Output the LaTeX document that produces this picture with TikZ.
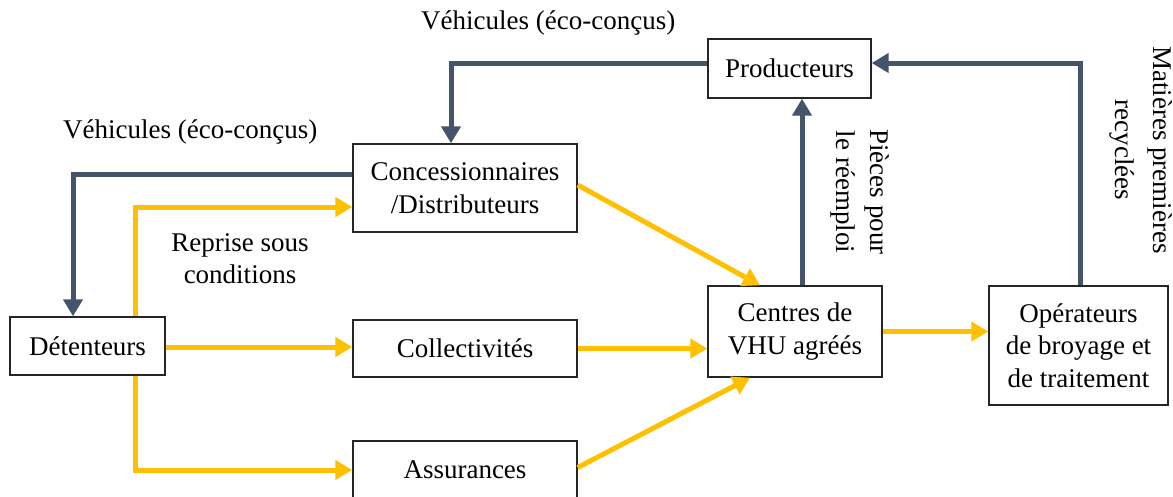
\documentclass[tikz,border=0pt]{standalone}
\usepackage{fontspec}
\setmainfont{Liberation Serif}
\usetikzlibrary{arrows.meta}
\definecolor{dkc}{HTML}{44546A}
\definecolor{ylc}{HTML}{FFC000}
\tikzset{
  box/.style={draw=black!85, line width=1.4pt, inner sep=0pt, align=center, fill=white,
    font=\fontsize{27}{32.5}\selectfont},
  lbl/.style={inner sep=0pt, align=center, font=\fontsize{27}{32}\selectfont},
  tip/.style={-{Triangle[width=19pt,length=17pt]}},
  dk/.style={draw=dkc, line width=5pt, tip},
  yl/.style={draw=ylc, line width=5pt, tip},
}
\begin{document}
\begin{tikzpicture}[x=1pt,y=-1pt]
\useasboundingbox[fill=white] (0,0) rectangle (1173,496);
% boxes
\node[box, minimum width=163pt, minimum height=59pt] (prod) at (789.5,68.5) {Producteurs};
\node[box, minimum width=224pt, minimum height=88pt] (conc) at (465,188) {Concessionnaires\\/Distributeurs};
\node[box, minimum width=155pt, minimum height=58pt] (det) at (87.5,346) {Détenteurs};
\node[box, minimum width=224pt, minimum height=57pt] (coll) at (465,348.5) {Collectivités};
\node[box, minimum width=224pt, minimum height=57pt] (assu) at (465,469.5) {Assurances};
\node[box, minimum width=174pt, minimum height=91pt] (cent) at (795,331.5) {Centres de\\VHU agréés};
\node[box, minimum width=179pt, minimum height=119pt] (oper) at (1078.5,345.5) {Opérateurs\\de broyage et\\de traitement};
% labels
\node[lbl, anchor=west] (t1) at (421,23) {Véhicules (éco-conçus)};
\node[lbl, anchor=west] (t2) at (63,132) {Véhicules (éco-conçus)};
\node[lbl] (t3) at (240,259) {Reprise sous\\conditions};
\node[lbl, rotate=-90, font=\fontsize{27}{34}\selectfont] (t4) at (860,192) {Pièces pour\\le réemploi};
\node[lbl, rotate=-90, font=\fontsize{27}{38}\selectfont] (t5) at (1141,150) {Matières premières\\recyclées};
% dark connectors
\draw[dk] ([yshift=5pt]prod.west) -| ([xshift=-14pt]conc.north);
\draw[dk] ([yshift=14pt]conc.west) -| ([xshift=-14.5pt]det.north);
\draw[dk] ([xshift=7pt]cent.north) -- ([xshift=7pt]cent.north |- prod.south);
\draw[dk] ([xshift=1.5pt]oper.north) |- ([yshift=5.5pt]prod.east);
% yellow connectors
\draw[yl] ([xshift=47.5pt]det.north) |- ([yshift=-19pt]conc.west);
\draw[yl] ([yshift=-1pt]det.east) -- ([yshift=-1pt]det.east -| coll.west);
\draw[yl] ([xshift=47.5pt]det.south) |- ([yshift=-0.5pt]assu.west);
\draw[yl] ([yshift=3pt]conc.east) -- ([xshift=-35pt]cent.north);
\draw[yl] (coll.east) -- (coll.east -| cent.west);
\draw[yl] ([yshift=2pt]assu.east) -- ([xshift=-45pt]cent.south);
\draw[yl] (cent.east) -- (cent.east -| oper.west);
\end{tikzpicture}
\end{document}
